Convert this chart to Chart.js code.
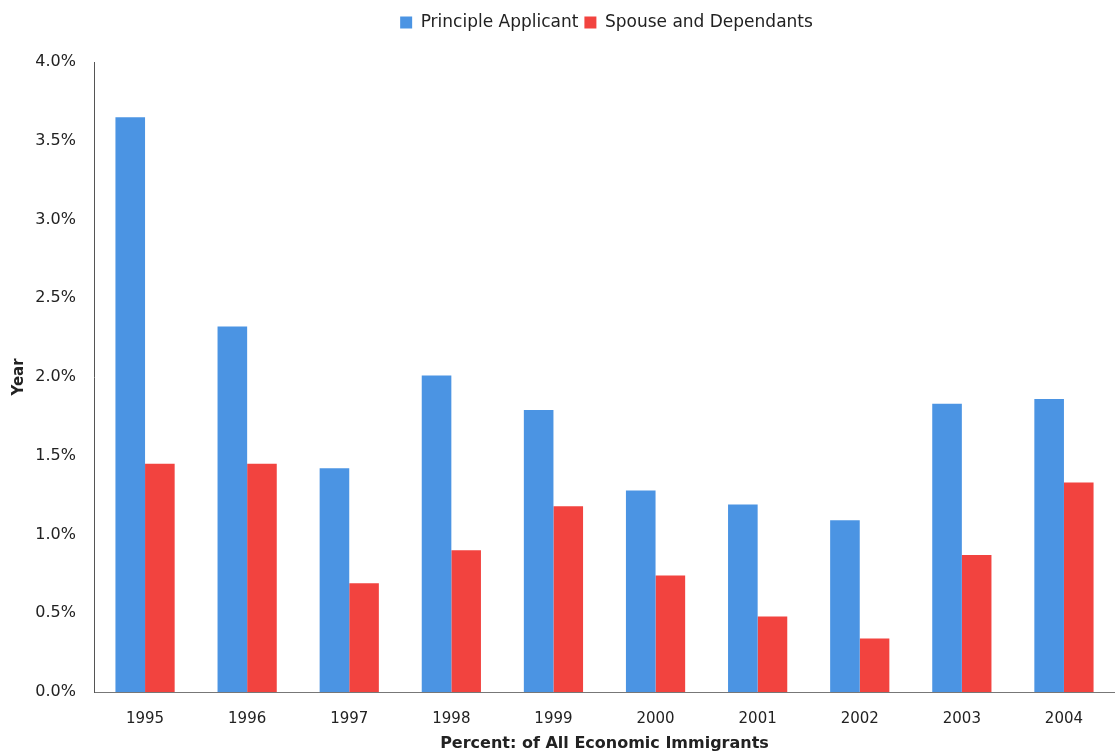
<!DOCTYPE html>
<html>
<head>
<meta charset="utf-8">
<script src="https://cdn.jsdelivr.net/npm/chart.js@4/dist/chart.umd.min.js"></script>
<style>
  html, body { margin: 0; padding: 0; background: #fff; }
  #wrap { width: 1115px; height: 752px; }
</style>
</head>
<body>
<div id="wrap"><canvas id="grafico" width="1115" height="752"></canvas></div>
<script>
const years = ["1995", "1996", "1997", "1998", "1999", "2000", "2001", "2002", "2003", "2004"];
const principal = [3.65, 2.32, 1.42, 2.01, 1.79, 1.28, 1.19, 1.09, 1.83, 1.86];
const spouse = [1.45, 1.45, 0.69, 0.90, 1.18, 0.74, 0.48, 0.34, 0.87, 1.33];

// espacio extra bajo la leyenda y centrado sobre el area del grafico
const legendGap = {
  id: "legendGap",
  beforeInit(chart) {
    const fit = chart.legend.fit;
    chart.legend.fit = function () {
      fit.call(this);
      this.height += 21;
    };
  },
  afterLayout(chart) {
    chart.legend.left += 49;
    chart.legend.right += 49;
  }
};

const ctx = document.getElementById("grafico").getContext("2d");
const grafico = new Chart(ctx, {
  type: "bar",
  data: {
    labels: years,
    datasets: [
      { label: "Principle Applicant", data: principal, backgroundColor: "#4b94e3" },
      { label: "Spouse and Dependants", data: spouse, backgroundColor: "#f2433f" }
    ]
  },
  options: {
    responsive: false,
    animation: false,
    layout: { padding: { top: 8, right: 0, left: 0, bottom: 0 } },
    plugins: {
      legend: {
        position: "top",
        labels: {
          boxWidth: 12,
          boxHeight: 12,
          padding: 6,
          color: "#222",
          font: { family: "DejaVu Sans", size: 17 }
        }
      },
      tooltip: { enabled: false }
    },
    datasets: { bar: { categoryPercentage: 0.58, barPercentage: 1.0 } },
    scales: {
      x: {
        grid: { display: false },
        border: { display: true, color: "#777" },
        ticks: { color: "#222", font: { family: "DejaVu Sans", size: 15 }, padding: 10 },
        title: {
          display: true,
          text: "Percent: of All Economic Immigrants",
          color: "#222",
          font: { family: "DejaVu Sans", size: 16, weight: "bold", lineHeight: 1.0 },
          padding: { top: 6, bottom: 0 }
        },
        afterFit(scale) { scale.height = 60; }
      },
      y: {
        min: 0,
        max: 4,
        grid: { display: false },
        border: { display: true, color: "#555" },
        ticks: {
          stepSize: 0.5,
          color: "#222",
          padding: 10,
          font: { family: "DejaVu Sans", size: 16 },
          callback: (v) => v.toFixed(1) + "%"
        },
        title: {
          display: true,
          text: "Year",
          color: "#222",
          font: { family: "DejaVu Sans", size: 15, weight: "bold" },
          padding: { top: 10, bottom: 6 }
        },
        afterFit(scale) { scale.width = 94; }
      }
    }
  },
  plugins: [legendGap]
});
</script>
</body>
</html>
